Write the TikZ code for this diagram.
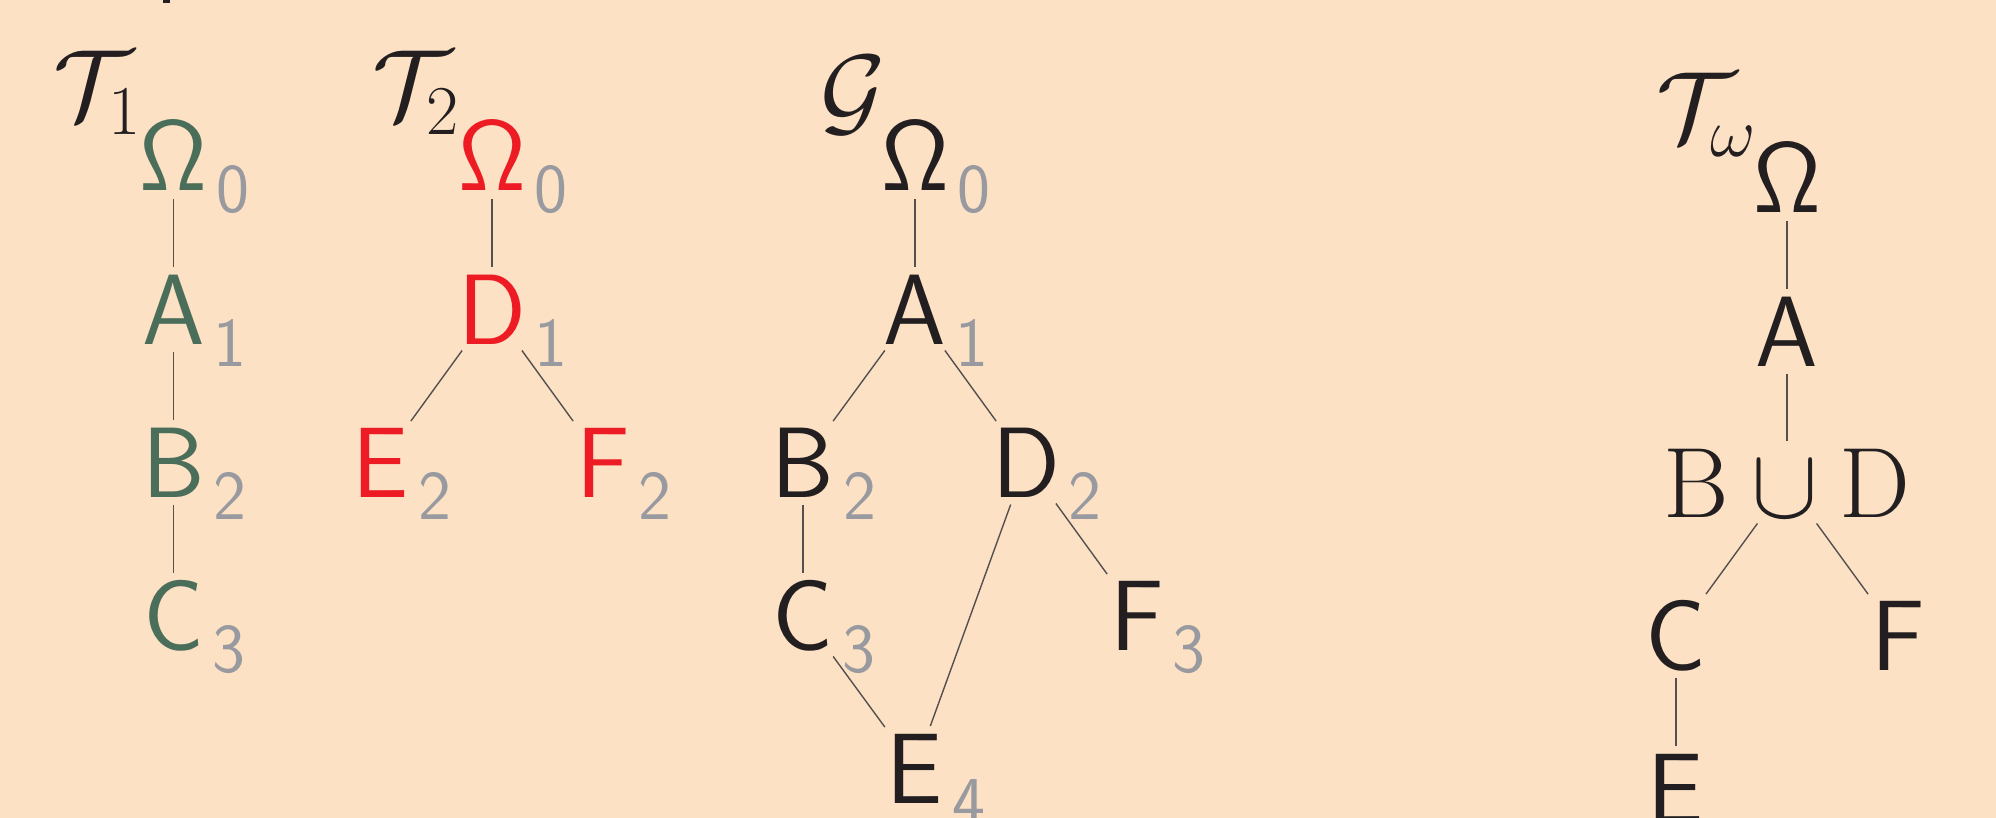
\RequirePackage{fix-cm}
\documentclass[tikz,border=0pt]{standalone}
\definecolor{bg}{RGB}{252,225,197}
\definecolor{tgreen}{RGB}{74,110,90}
\definecolor{tred}{RGB}{237,28,36}
\definecolor{tgray}{RGB}{152,154,160}
\definecolor{tink}{RGB}{35,31,32}
\definecolor{tline}{RGB}{85,80,78}
\tikzset{
  lt/.style={inner sep=0pt, outer sep=0pt, anchor=base, font=\fontsize{50}{60}\selectfont, text=tink},
  sb/.style={inner sep=0pt, outer sep=0pt, anchor=base west, font=\fontsize{35}{40}\selectfont\sffamily, text=tgray},
  ttl/.style={inner sep=0pt, outer sep=0pt, anchor=base west, font=\fontsize{50}{60}\selectfont, text=tink},
  ed/.style={draw=tline, line width=0.7pt, shorten <=4pt, shorten >=4pt},
}
\newcommand\subat[3]{\node[sb] (#1s) at ([xshift=4.5pt,yshift=-11pt]#1.base east) {#2#3};}
\begin{document}
\begin{tikzpicture}[x=0.5pt,y=-0.5pt]
\fill[bg] (0,0) rectangle (1996,818);
\useasboundingbox (0,0) rectangle (1996,818);
\fill[tink] (163,0) rectangle (170,3.5);

% T1
\node[ttl] (t1) at (54,120) {$\mathcal{T}_1$};
\node[lt,text=tgreen] (o1) at (173.5,191) {$\mathsf{\Omega}$};
\node[lt,text=tgreen] (a1) at (173.5,344) {$\mathsf{A}$};
\node[lt,text=tgreen] (b1) at (173.5,497) {$\mathsf{B}$};
\node[lt,text=tgreen] (c1) at (173.5,650) {$\mathsf{C}$};
\subat{o1}{0}{}
\subat{a1}{1}{}
\subat{b1}{2}{}
\subat{c1}{3}{}
\draw[ed] (o1) -- (a1);
\draw[ed] (a1) -- (b1);
\draw[ed] (b1) -- (c1);

% T2
\node[ttl] (t2) at (372,120) {$\mathcal{T}_2$};
\node[lt,text=tred] (o2) at (492,191) {$\mathsf{\Omega}$};
\node[lt,text=tred] (d2) at (492,344) {$\mathsf{D}$};
\node[lt,text=tred] (e2) at (381,497) {$\mathsf{E}$};
\node[lt,text=tred] (f2) at (603,497) {$\mathsf{F}$};
\subat{o2}{0}{}
\subat{d2}{1}{}
\subat{e2}{2}{}
\subat{f2}{2}{}
\draw[ed] (o2) -- (d2);
\draw[ed] (d2) -- (e2);
\draw[ed] (d2) -- (f2);

% G
\node[ttl] (tg) at (820,125) {$\mathcal{G}$};
\node[lt] (og) at (915,191) {$\mathsf{\Omega}$};
\node[lt] (ag) at (915,344) {$\mathsf{A}$};
\node[lt] (bg) at (803,497) {$\mathsf{B}$};
\node[lt] (dg) at (1026,497) {$\mathsf{D}$};
\node[lt] (cg) at (803,650) {$\mathsf{C}$};
\node[lt] (fg) at (1137,650) {$\mathsf{F}$};
\node[lt] (eg) at (915,803) {$\mathsf{E}$};
\subat{og}{0}{}
\subat{ag}{1}{}
\subat{bg}{2}{}
\subat{dg}{2}{}
\subat{cg}{3}{}
\subat{fg}{3}{}
\subat{eg}{4}{}
\draw[ed] (og) -- (ag);
\draw[ed] (ag) -- (bg);
\draw[ed] (ag) -- (dg);
\draw[ed] (bg) -- (cg);
\draw[ed] (dg) -- (fg);
\draw[ed] (dg) -- (eg);
\draw[ed] (cg) -- (eg);

% T omega
\node[ttl] (tw) at (1656,142) {$\mathcal{T}_\omega$};
\node[lt] (ow) at (1787,213) {$\mathsf{\Omega}$};
\node[lt] (aw) at (1787,366) {$\mathsf{A}$};
\node[lt] (bdw) at (1787,517) {$\mathrm{B}\cup\mathrm{D}$};
\node[lt] (cw) at (1676,670) {$\mathsf{C}$};
\node[lt] (fw) at (1898,670) {$\mathsf{F}$};
\node[lt] (ew) at (1676,823) {$\mathsf{E}$};
\draw[ed] (ow) -- (aw);
\draw[ed] (aw) -- (bdw);
\draw[ed] (bdw) -- (cw);
\draw[ed] (bdw) -- (fw);
\draw[ed] (cw) -- (ew);
\end{tikzpicture}
\end{document}
